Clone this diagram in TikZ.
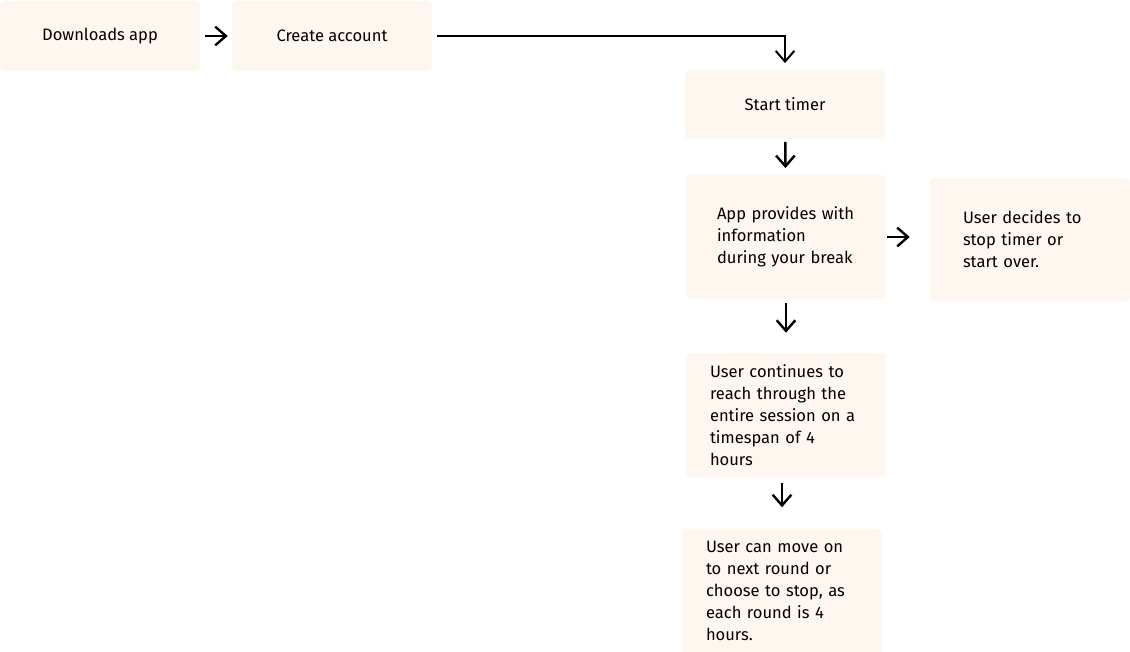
\documentclass[tikz,border=0pt]{standalone}
\usepackage{fontspec}
\setmainfont{Fira Sans}
\usetikzlibrary{arrows.meta}
\definecolor{boxfill}{HTML}{FEF7F0}
\begin{document}
\begin{tikzpicture}[
    x=0.75pt, y=-0.75pt,
    stepbox/.style={rectangle,fill=boxfill,rounded corners=3pt,minimum width=150pt,
        font=\fontsize{12.4}{16.5}\selectfont,inner sep=0pt},
    textbox/.style={stepbox,align=left,text width=#1},
    arr/.style={line width=1.8pt,-{Straight Barb[length=8pt,width=14pt]}}
]
    \useasboundingbox (0,0) rectangle (1130,652);

    % Top row
    \node[stepbox,minimum height=52.5pt] (dl) at (100,36) {Downloads app};
    \node[stepbox,minimum height=52.5pt] (acc) at (332,36) {Create account};
    \draw[arr,shorten <=3.5pt,shorten >=3pt] (dl) -- (acc);

    % Main column
    \node[stepbox,minimum height=51.75pt] (timer) at (785,104.5) {Start timer};
    \draw[arr,line width=1.5pt,shorten <=3.5pt,shorten >=5pt] (acc.east) -| (timer.north);

    \node[textbox=103.5pt,minimum height=93pt] (info) at (786,237) {App provides with\\information\\during your break};
    \draw[arr,shorten <=2pt,shorten >=5pt] (timer) -- (info);

    \node[textbox=100.5pt,minimum height=92.25pt] (decide) at (1030,239.5) {User decides to\\stop timer or\\start over.};
    \draw[arr,shorten <=0.5pt,shorten >=15pt] (info.east) -- (info.east -| decide.west);

    \node[textbox=114pt,minimum height=93pt] (cont) at (786,415) {User continues to\\reach through the\\entire session on a\\timespan of 4\\hours};
    \draw[arr,shorten <=3pt,shorten >=15pt] (info) -- (cont);

    \node[textbox=114pt,minimum height=93.75pt] (next) at (782,591) {User can move on\\to next round or\\choose to stop, as\\each round is 4\\hours.};
    \draw[arr,shorten <=4pt,shorten >=15.75pt] (cont.south -| next.north) -- (next.north);
\end{tikzpicture}
\end{document}
